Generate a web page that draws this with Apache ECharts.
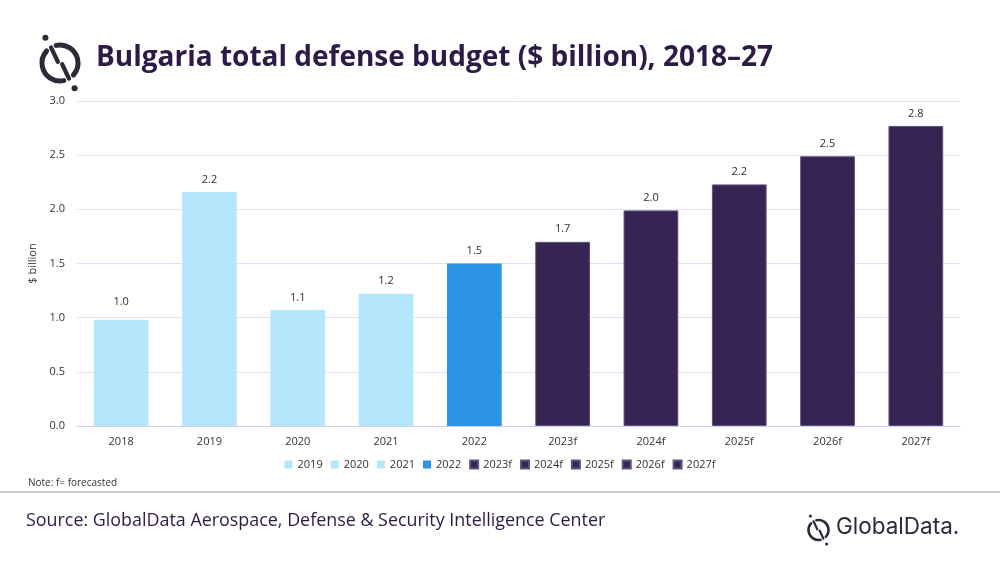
<!DOCTYPE html>
<html>
<head>
<meta charset="utf-8">
<script src="https://cdn.jsdelivr.net/npm/echarts@6/dist/echarts.min.js"></script>
<style>
  html, body { margin: 0; padding: 0; background: #fff; }
  #chart { width: 1000px; height: 562px; }
</style>
</head>
<body>
<div id="chart"></div>
<script>
const years = ['2018', '2019', '2020', '2021', '2022', '2023f', '2024f', '2025f', '2026f', '2027f'];
const budget = [0.98, 2.16, 1.07, 1.22, 1.50, 1.70, 1.99, 2.23, 2.49, 2.77];
const legendYears = ['2019', '2020', '2021', '2022', '2023f', '2024f', '2025f', '2026f', '2027f'];
const yTicks = [0, 0.5, 1, 1.5, 2, 2.5, 3];

const LIGHT = '#b5e7fc';
const MID = '#2d93e3';
const DARK = '#362452';
const TEXT = '#2e1a47';
const LOGO = '#2b2b38';

function barColor(year) {
    if (year.endsWith('f')) return DARK;
    if (year === '2022') return MID;
    return LIGHT;
}

// ring with two gaps, broken diagonal and two dots
function logo(cx, cy, r, w) {
    const deg = Math.PI / 180;
    const pt = (a, rr) => [cx + rr * Math.cos(a * deg), cy + rr * Math.sin(a * deg)];
    return [
        { type: 'arc', shape: { cx: cx, cy: cy, r: r, startAngle: 78 * deg, endAngle: 222 * deg },
          style: { stroke: LOGO, lineWidth: w, fill: null, lineCap: 'round' } },
        { type: 'arc', shape: { cx: cx, cy: cy, r: r, startAngle: 258 * deg, endAngle: 402 * deg },
          style: { stroke: LOGO, lineWidth: w, fill: null, lineCap: 'round' } },
        { type: 'line', shape: { x1: pt(240, r)[0], y1: pt(240, r)[1], x2: pt(240, r * 0.08)[0] - r * 0.08, y2: pt(240, r * 0.08)[1] },
          style: { stroke: LOGO, lineWidth: w * 0.85, lineCap: 'round' } },
        { type: 'line', shape: { x1: pt(60, r * 0.08)[0] + r * 0.08, y1: pt(60, r * 0.08)[1], x2: pt(60, r)[0], y2: pt(60, r)[1] },
          style: { stroke: LOGO, lineWidth: w * 0.85, lineCap: 'round' } },
        { type: 'circle', shape: { cx: pt(240, r * 1.62)[0], cy: pt(240, r * 1.62)[1], r: w * 0.6 }, style: { fill: LOGO } },
        { type: 'circle', shape: { cx: pt(60, r * 1.62)[0], cy: pt(60, r * 1.62)[1], r: w * 0.6 }, style: { fill: LOGO } }
    ];
}

// one series per year so the legend lists years like the original
const series = years.map((y, i) => ({
    name: y,
    type: 'bar',
    stack: 'total',
    barWidth: '62%',
    data: years.map((_, j) => (j === i ? budget[i] : '-')),
    itemStyle: {
        color: barColor(y),
        borderColor: y.endsWith('f') ? '#5f5280' : barColor(y),
        borderWidth: y.endsWith('f') ? 1 : 0
    },
    label: {
        show: true,
        position: 'top',
        distance: i === 0 ? 12 : 7,
        color: '#2b2b3a',
        fontFamily: 'Open Sans',
        fontSize: 11,
        formatter: (p) => p.value.toFixed(1)
    }
}));

const chart = echarts.init(document.getElementById('chart'));
chart.setOption({
    animation: false,
    backgroundColor: '#fff',
    title: {
        text: 'Bulgaria total defense budget ($ billion), 2018\u201327',
        left: 91,
        top: 39,
        textStyle: {
            fontFamily: 'Open Sans',
            fontWeight: 700,
            fontSize: 28,
            color: TEXT
        }
    },
    legend: {
        data: legendYears,
        bottom: 87,
        left: 'center',
        itemWidth: 8,
        itemHeight: 8,
        itemGap: 8,
        icon: 'rect',
        textStyle: { fontFamily: 'Open Sans', fontSize: 11, color: '#333' }
    },
    grid: { left: 77, right: 40, top: 101, bottom: 136 },
    xAxis: {
        type: 'category',
        data: years,
        axisTick: { show: false },
        axisLine: { lineStyle: { color: '#d3cbea' } },
        axisLabel: { color: '#333', fontFamily: 'Open Sans', fontSize: 11, margin: 10 }
    },
    yAxis: {
        type: 'value',
        min: yTicks[0],
        max: yTicks[yTicks.length - 1],
        interval: 0.5,
        name: '$ billion',
        nameLocation: 'middle',
        nameGap: 33,
        nameTextStyle: { color: '#333', fontFamily: 'Open Sans', fontSize: 11 },
        axisLine: { show: false },
        axisTick: { show: false },
        splitLine: { lineStyle: { color: '#e3def2' } },
        axisLabel: {
            color: '#333',
            fontFamily: 'Open Sans',
            fontSize: 11,
            margin: 12,
            formatter: (v) => v.toFixed(1)
        }
    },
    series: series,
    graphic: [
        ...logo(60, 63, 18, 5),
        { type: 'text', left: 28, top: 478,
          style: { text: 'Note: f= forecasted', fontFamily: 'Open Sans', fontSize: 10, fill: '#333' } },
        { type: 'rect', shape: { x: 0, y: 491, width: 1000, height: 2 }, style: { fill: '#c9c9c9' } },
        { type: 'text', left: 26, top: 512,
          style: { text: 'Source: GlobalData Aerospace, Defense & Security Intelligence Center',
                   fontFamily: 'Open Sans', fontSize: 17.9, fill: TEXT } },
        ...logo(818.5, 530, 10, 2.6),
        { type: 'text', left: 836, top: 516,
          style: { text: 'GlobalData.', fontFamily: 'Inter', fontSize: 22.5, fill: LOGO } }
    ]
});
</script>
</body>
</html>
